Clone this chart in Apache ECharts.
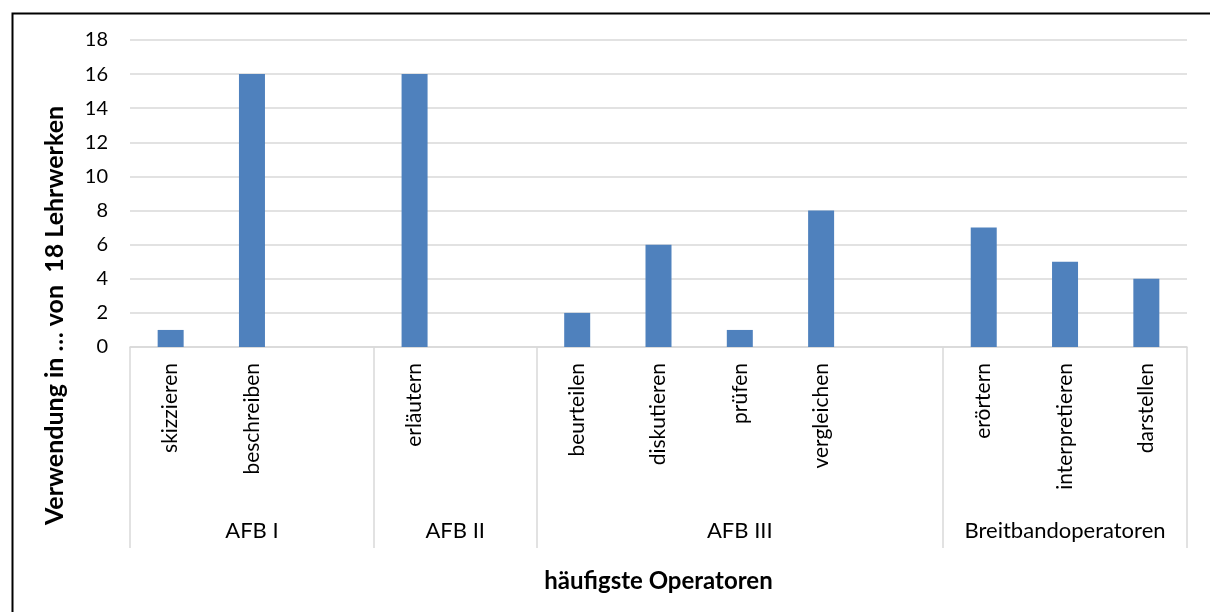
<!DOCTYPE html>
<html>
<head>
<meta charset="utf-8">
<script src="https://cdn.jsdelivr.net/npm/echarts@6/dist/echarts.min.js"></script>
<style>
  html, body { margin: 0; padding: 0; background: #fff; }
  #chart { width: 1210px; height: 612px; }
</style>
</head>
<body>
<div id="chart"></div>
<script>
// data
var categories = ['skizzieren', 'beschreiben', '', 'erläutern', '', 'beurteilen', 'diskutieren', 'prüfen', 'vergleichen', '', 'erörtern', 'interpretieren', 'darstellen'];
var values = [1, 16, null, 16, null, 2, 6, 1, 8, null, 7, 5, 4];
var groupNames = ['AFB I', 'AFB II', 'AFB III', 'Breitbandoperatoren'];
var groupSizes = [3, 2, 5, 3];

// group borders + centres on a 0..13 value axis
var groupBounds = [0];
var groupCenters = [];
var pos = 0;
for (var i = 0; i < groupSizes.length; i++) {
    groupCenters.push(pos + groupSizes[i] / 2);
    pos += groupSizes[i];
    groupBounds.push(pos);
}

var font = 'Lato, "Open Sans", sans-serif';
var gridColor = '#d9d9d9';

var myChart = echarts.init(document.getElementById('chart'));
myChart.setOption({
    animation: false,
    textStyle: { fontFamily: font },
    graphic: [{
        type: 'rect',
        left: 10, top: 11,
        shape: { width: 1400, height: 800 },
        style: { fill: 'none', stroke: '#000', lineWidth: 2 },
        silent: true
    }],
    grid: { left: 130, right: 23, top: 40, bottom: 265 },
    xAxis: [
        {
            type: 'category',
            data: categories,
            axisLine: { lineStyle: { color: gridColor, width: 1.5 } },
            axisTick: { show: false },
            axisLabel: { rotate: 90, margin: 16, fontSize: 21, color: '#000', fontFamily: font, interval: 0 }
        },
        {
            type: 'value',
            position: 'bottom',
            min: 0,
            max: categories.length,
            axisLine: { show: false },
            splitLine: { show: false },
            axisTick: {
                show: true,
                length: 201,
                customValues: groupBounds,
                lineStyle: { color: gridColor, width: 1.5 }
            },
            axisLabel: {
                customValues: groupCenters,
                margin: 173,
                fontSize: 22,
                color: '#000',
                fontFamily: font,
                formatter: function (v) {
                    var k = groupCenters.indexOf(v);
                    return k >= 0 ? groupNames[k] : '';
                }
            },
            name: 'häufigste Operatoren',
            nameLocation: 'middle',
            nameGap: 222,
            nameTextStyle: { fontSize: 24, fontWeight: 'bold', color: '#000', fontFamily: font }
        }
    ],
    yAxis: {
        type: 'value',
        min: 0,
        max: 18,
        interval: 2,
        axisLine: { show: false },
        axisTick: { show: false },
        splitLine: { lineStyle: { color: gridColor, width: 1.5 } },
        axisLabel: { fontSize: 20, color: '#000', margin: 22, fontFamily: font },
        name: 'Verwendung in … von  18 Lehrwerken',
        nameLocation: 'middle',
        nameGap: 63,
        nameTextStyle: { fontSize: 25, fontWeight: 'bold', color: '#000', fontFamily: font, padding: [0, 244, 0, 0] }
    },
    series: [{
        type: 'bar',
        xAxisIndex: 0,
        data: values,
        barWidth: 26,
        itemStyle: { color: '#4f81bd' }
    }]
});
</script>
</body>
</html>
